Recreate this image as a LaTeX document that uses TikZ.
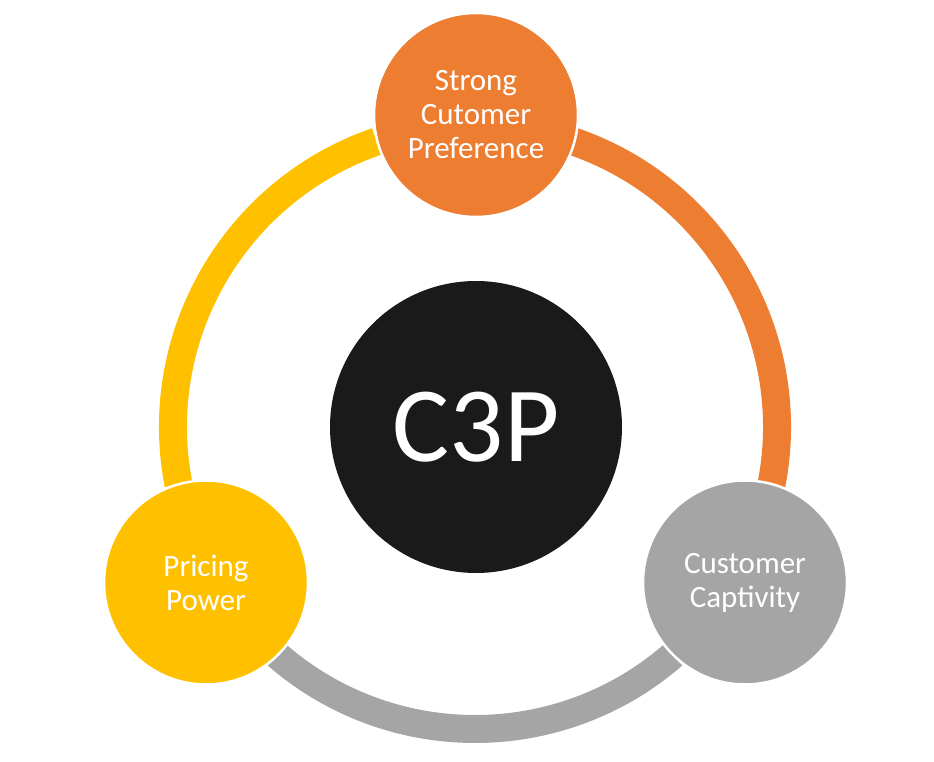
\documentclass[tikz,border=0pt]{standalone}
\usepackage{fontspec}
\setmainfont{Carlito}
\definecolor{c3porange}{HTML}{ED7D31}
\definecolor{c3pyellow}{HTML}{FFC000}
\definecolor{c3pgray}{HTML}{A5A5A5}
\definecolor{c3pblack}{HTML}{1A1A1A}
\tikzset{
	pillar/.style={circle, draw=white, line width=2.5pt, minimum size=204pt, inner sep=0pt, align=center, text=white, font=\fontsize{31}{34}\selectfont},
	ringpart/.style={line width=28pt, line cap=butt}
}
\begin{document}
\begin{tikzpicture}[x=1pt, y=1pt]
			\useasboundingbox (0,0) rectangle (934,761);
			\coordinate (hub) at (475,334);
			
			\draw[ringpart, c3porange] (hub) ++(71:302) arc[start angle=71, end angle=-11, radius=302];
			\draw[ringpart, c3pgray] (hub) ++(-49:302) arc[start angle=-49, end angle=-131, radius=302];
			\draw[ringpart, c3pyellow] (hub) ++(191:302) arc[start angle=191, end angle=109, radius=302];
			
			\node[circle, fill=c3pblack, minimum size=292pt, inner sep=0pt, text=white, font=\fontsize{107}{120}\selectfont] (core) at (476,334) {C3P};
			\node[pillar, fill=c3porange] (preference) at (476,646) {Strong\\Cutomer\\Preference};
			\node[pillar, fill=c3pyellow] (pricing) at (206,178.5) {Pricing\\Power};
			\node[pillar, fill=c3pgray] (captivity) at (745,178.5) {Customer\\Captivity};
			
		\end{tikzpicture}
\end{document}
